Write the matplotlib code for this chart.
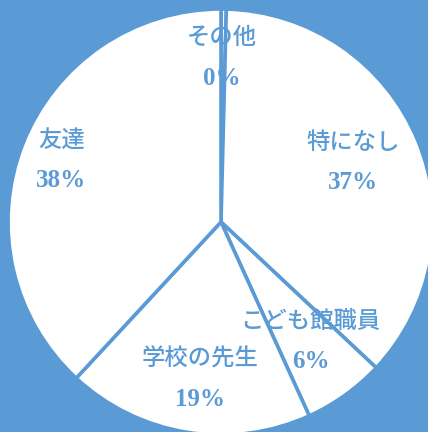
import matplotlib.pyplot as plt

# Share of answers, clockwise from 12 o'clock
categories = ["その他", "特になし", "こども館職員", "学校の先生", "友達"]
values = [0.4, 36.6, 6.2, 18.7, 38.1]

# label anchor points (axes data coords, pie radius = 1)
label_pos = [(0.005, 0.77), (0.62, 0.28), (0.42, -0.56), (-0.10, -0.74), (-0.75, 0.29)]

BLUE = "#5B9BD5"


def main():
    fig = plt.figure(figsize=(4.28, 4.32), dpi=100, facecolor=BLUE)
    # square axes box so the pie radius is 213 px, centred at (221, 222)
    ax = fig.add_axes([8 / 428, -3 / 432, 426 / 428, 426 / 432])
    ax.set_facecolor(BLUE)

    ax.pie(
        values,
        startangle=90,
        counterclock=False,
        colors=["white"] * len(values),
        wedgeprops=dict(edgecolor=BLUE, linewidth=2.6),
        radius=1.0,
    )
    ax.set_xlim(-1, 1)
    ax.set_ylim(-1, 1)
    ax.set_aspect("auto")
    ax.axis("off")

    fam = ["Liberation Serif", "Noto Sans CJK JP", "DejaVu Sans"]
    for name, v, (x, y) in zip(categories, values, label_pos):
        ax.text(x, y + 0.095, name, ha="center", va="center", color=BLUE,
                fontsize=16.8, family=["Noto Sans CJK JP", "DejaVu Sans"],
                fontweight="medium")
        ax.text(x, y - 0.095, f"{round(v)}%", ha="center", va="center",
                color=BLUE, fontsize=18, family=fam, fontweight="bold")

    fig.savefig("out.png", dpi=100, facecolor=BLUE)
    plt.close(fig)


if __name__ == "__main__":
    main()
